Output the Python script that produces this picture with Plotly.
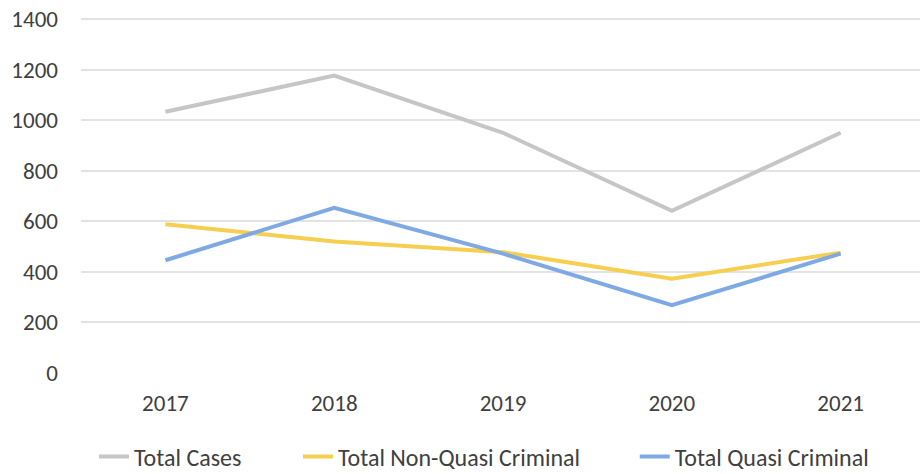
import plotly.graph_objects as go

years = ["2017", "2018", "2019", "2020", "2021"]
total_cases = [1033, 1176, 950, 641, 950]
total_non_quasi = [588, 520, 478, 373, 476]
total_quasi = [446, 653, 472, 268, 472]

series_names = ["Total Cases", "Total Non-Quasi Criminal", "Total Quasi Criminal"]
series_colors = ["#C6C6C6", "#F6CF50", "#7EA9E3"]
y_ticks = [0, 200, 400, 600, 800, 1000, 1200, 1400]

FONT = "Carlito, Calibri, Lato, sans-serif"
TXT = "#404040"
FS = 23
LFS = 24

legend_ids = ["legend", "legend2", "legend3"]
legend_x = [0.0155, 0.2586, 0.660]

fig = go.Figure()
for name, vals, col, lid in zip(series_names, [total_cases, total_non_quasi, total_quasi],
                                series_colors, legend_ids):
    fig.add_trace(go.Scatter(
        x=years, y=vals, name=name, mode="lines",
        line=dict(color=col, width=4), legend=lid,
    ))

legend_common = dict(
    orientation="h", xanchor="left", y=-0.2366, yanchor="middle",
    font=dict(family=FONT, size=LFS, color=TXT),
    bgcolor="rgba(0,0,0,0)",
)

fig.update_layout(
    width=920, height=474,
    margin=dict(l=81, r=0, t=18, b=101, autoexpand=False),
    paper_bgcolor="white", plot_bgcolor="white",
    font=dict(family=FONT, size=FS, color=TXT),
    showlegend=True,
    legend=dict(x=legend_x[0], **legend_common),
    legend2=dict(x=legend_x[1], **legend_common),
    legend3=dict(x=legend_x[2], **legend_common),
)
fig.update_xaxes(
    type="category", range=[-0.5, 4.47], automargin=False,
    showgrid=False, showline=False, zeroline=False,
    ticks="", ticklabelstandoff=14,
    tickfont=dict(family=FONT, size=FS, color=TXT),
)
fig.update_yaxes(
    range=[0, 1404], tickvals=y_ticks, automargin=False,
    showgrid=True, gridcolor="#E3E3E3", gridwidth=1.5,
    zeroline=False, showline=False, ticks="",
    ticklabelstandoff=22, ticklabeloverflow="allow",
    tickfont=dict(family=FONT, size=FS, color=TXT),
)

fig.write_html(
    "out.html",
    config={"displayModeBar": False},
    post_script="document.body.style.margin='0';document.body.style.overflow='hidden';",
)
